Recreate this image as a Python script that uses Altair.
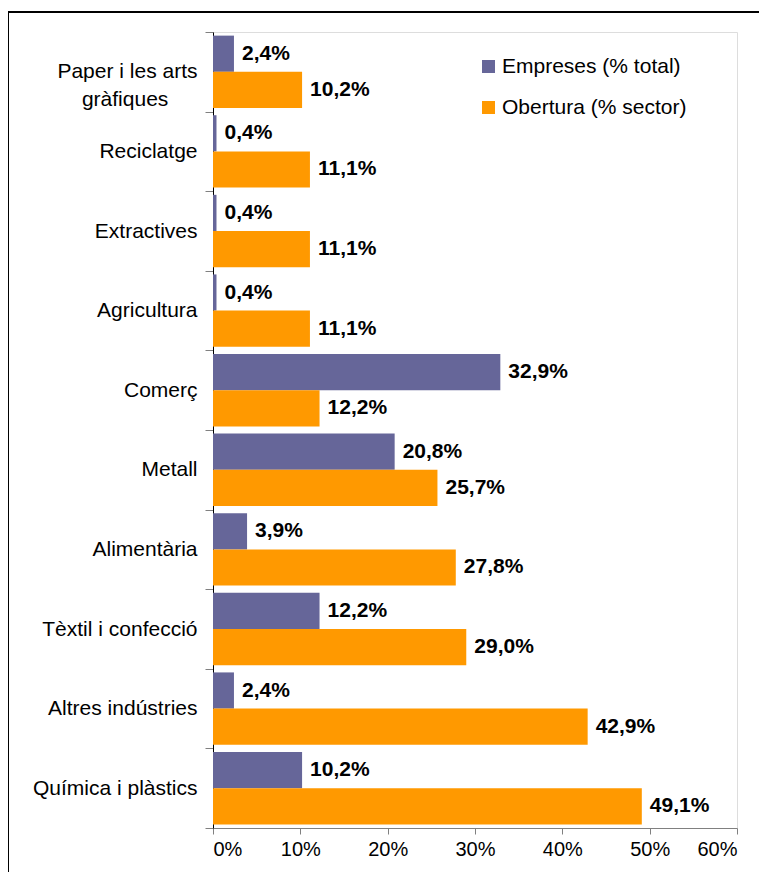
import altair as alt
import pandas as pd

categories = [
    "Paper i les arts|gràfiques\u00a0\u00a0\u00a0\u00a0\u00a0\u2060",
    "Reciclatge",
    "Extractives",
    "Agricultura",
    "Comerç",
    "Metall",
    "Alimentària",
    "Tèxtil i confecció",
    "Altres indústries",
    "Química i plàstics",
]
series = ["Empreses (% total)", "Obertura (% sector)"]
empreses = [2.4, 0.4, 0.4, 0.4, 32.9, 20.8, 3.9, 12.2, 2.4, 10.2]
obertura = [10.2, 11.1, 11.1, 11.1, 12.2, 25.7, 27.8, 29.0, 42.9, 49.1]
x_ticks = [0, 10, 20, 30, 40, 50, 60]
colors = ["#666699", "#FF9900"]

rows = []
for c, e, o in zip(categories, empreses, obertura):
    for s, v in zip(series, [e, o]):
        rows.append({"cat": c, "series": s, "value": v,
                     "label": f"{v:.1f}".replace(".", ",") + "%"})
df = pd.DataFrame(rows)

FONT = "Liberation Sans"

y_enc = alt.Y("cat:N", sort=categories, title=None,
              scale=alt.Scale(paddingInner=0, paddingOuter=0),
              axis=alt.Axis(tickBand="extent", labelExpr="split(datum.label, '|')",
                            labelFont=FONT, labelFontSize=21, labelColor="black",
                            labelPadding=8, tickSize=8, tickColor="#808080",
                            domainColor="black", domainWidth=1, grid=False,
                            labelLimit=300, labelLineHeight=28))
yoff_enc = alt.YOffset("series:N", sort=series,
                       scale=alt.Scale(paddingInner=0, paddingOuter=0.1))
x_enc = alt.X("value:Q", title=None,
              scale=alt.Scale(domain=[0, 60], nice=False),
              axis=alt.Axis(values=x_ticks, labelExpr="datum.value + '%'",
                            labelFont=FONT, labelFontSize=20, labelColor="black",
                            tickColor="#808080", domainColor="#808080", tickSize=6,
                            labelPadding=5, grid=False))

bars = alt.Chart(df).mark_bar().encode(
    y=y_enc, yOffset=yoff_enc, x=x_enc,
    color=alt.Color("series:N", sort=series,
                    scale=alt.Scale(domain=series, range=colors),
                    legend=alt.Legend(title=None, orient="none", legendX=265, legendY=24,
                                      symbolType="square", symbolSize=169,
                                      symbolStrokeWidth=0, labelFont=FONT,
                                      labelFontSize=21, labelColor="black",
                                      labelOffset=3, rowPadding=19, labelLimit=400)),
)

texts = alt.Chart(df).mark_text(align="left", baseline="middle", dx=8,
                                font=FONT, fontSize=21, fontWeight="bold",
                                color="black").encode(
    y=alt.Y("cat:N", sort=categories), yOffset=alt.YOffset("series:N", sort=series),
    x="value:Q", text="label:N",
)

frame_df = pd.DataFrame({"k": [0]})
left_line = alt.Chart(frame_df).mark_rule(color="black", strokeWidth=2).encode(
    x=alt.value(-205), y=alt.value(-21), y2=alt.value(850))
top_line = alt.Chart(frame_df).mark_rule(color="black", strokeWidth=2).encode(
    x=alt.value(-206), x2=alt.value(560), y=alt.value(-20))

chart = alt.layer(bars, texts, left_line, top_line).properties(
    width=524, height=796,
    autosize=alt.AutoSizeParams(type="none"),
    padding={"left": 205, "top": 24, "right": 22, "bottom": 44},
).configure_view(stroke=None).configure(background="white")

chart.save("out.html", embed_options={"renderer": "svg", "actions": False})
